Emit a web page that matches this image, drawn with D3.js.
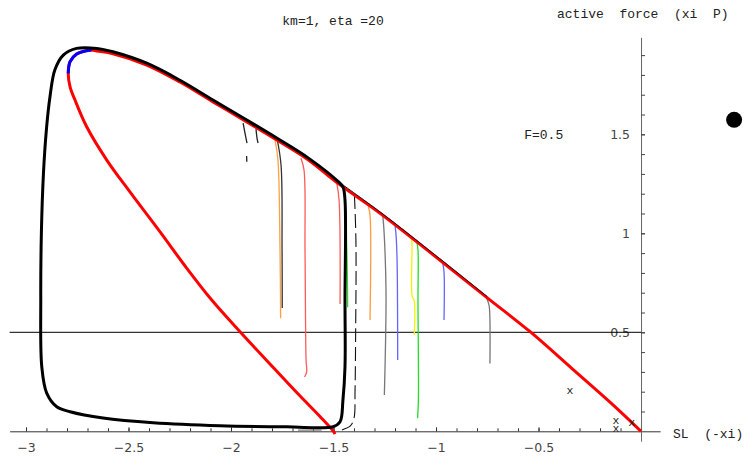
<!DOCTYPE html>
<html>
<head>
<meta charset="utf-8">
<script src="https://cdn.jsdelivr.net/npm/d3@7"></script>
<style>
  body { margin: 0; background: #fff; }
  svg { display: block; }
  .lab { font-family: "Liberation Mono", monospace; font-size: 13px; fill: #222; }
  .xm { font-size: 11.5px; }
  .tick text { font-family: "DejaVu Sans", sans-serif; font-size: 12.5px; fill: #444; }
</style>
</head>
<body>
<svg width="745" height="456"></svg>
<script>
// tick labels
const xTickVals = [-3, -2.5, -2, -1.5, -1, -0.5];
const yTickVals = [0.5, 1, 1.5];

// big black loop (SL, force)
const loopPts = [
  [-1.444, 0.663], [-1.444, 0.326], [-1.454, 0.158], [-1.468, 0.048], [-1.502, 0.023],
  [-1.728, 0.023], [-2.054, 0.028], [-2.380, 0.043], [-2.624, 0.067], [-2.785, 0.099],
  [-2.850, 0.124], [-2.899, 0.193], [-2.923, 0.326], [-2.928, 0.663], [-2.925, 1.000],
  [-2.915, 1.300], [-2.900, 1.530], [-2.883, 1.690], [-2.859, 1.826], [-2.818, 1.900],
  [-2.753, 1.934], [-2.655, 1.934], [-2.576, 1.917], [-2.411, 1.859], [-2.249, 1.773],
  [-2.088, 1.673], [-1.923, 1.572], [-1.777, 1.481], [-1.624, 1.381], [-1.477, 1.261],
  [-1.454, 1.234], [-1.444, 1.168]
];

// red curve
const redPts = [
  [-1.493, -0.014], [-1.502, 0.002], [-1.566, 0.075], [-1.663, 0.178], [-1.810, 0.340],
  [-1.956, 0.503], [-2.094, 0.663], [-2.224, 0.835], [-2.346, 1.007], [-2.493, 1.209],
  [-2.606, 1.370], [-2.704, 1.538], [-2.761, 1.673], [-2.785, 1.740], [-2.794, 1.808],
  [-2.785, 1.867], [-2.753, 1.906], [-2.712, 1.921], [-2.680, 1.926], [-2.655, 1.921],
  [-2.576, 1.907], [-2.411, 1.850], [-2.249, 1.764], [-2.088, 1.664], [-1.923, 1.563],
  [-1.777, 1.472], [-1.624, 1.372], [-1.478, 1.252], [-1.273, 1.101], [-1.0, 0.880],
  [-0.75, 0.674], [-0.541, 0.503], [-0.338, 0.318], [-0.15, 0.146], [0, 0]
];

// blue piece near the top
const bluePts = [[-2.794, 1.808], [-2.785, 1.867], [-2.753, 1.906], [-2.712, 1.921], [-2.680, 1.926]];

// thin drop traces and their colours
const dropTraces = [
  [[-1.941, 1.557], [-1.932, 1.507], [-1.922, 1.456]],
  [[-1.924, 1.390], [-1.923, 1.361]],
  [[-1.878, 1.526], [-1.873, 1.480], [-1.868, 1.456]],
  [[-1.785, 1.471], [-1.771, 1.370], [-1.761, 0.916], [-1.758, 0.571]],
  [[-1.776, 1.481], [-1.756, 1.345], [-1.751, 0.916], [-1.750, 0.623]],
  [[-1.659, 1.379], [-1.644, 1.320], [-1.639, 0.916], [-1.634, 0.360], [-1.631, 0.300], [-1.641, 0.274]],
  [[-1.484, 1.253], [-1.473, 1.168], [-1.468, 0.643]],
  [[-1.452, 1.235], [-1.444, 1.168], [-1.434, 0.865], [-1.431, 0.626]],
  [[-1.330, 1.134], [-1.322, 1.092], [-1.322, 0.562]],
  [[-1.260, 1.092], [-1.254, 1.017], [-1.244, 0.714], [-1.246, 0.461], [-1.252, 0.183]],
  [[-1.200, 1.042], [-1.195, 0.991], [-1.190, 0.865], [-1.187, 0.360]],
  [[-1.119, 0.975], [-1.117, 0.941], [-1.116, 0.680], [-1.107, 0.663], [-1.106, 0.486]],
  [[-1.094, 0.958], [-1.088, 0.916], [-1.088, 0.663], [-1.086, 0.158], [-1.090, 0.066]],
  [[-0.967, 0.848], [-0.961, 0.805], [-0.961, 0.562]],
  [[-0.753, 0.672], [-0.746, 0.653], [-0.740, 0.628], [-0.737, 0.343]],
  [[-1.673, 0.006], [-1.558, 0.006]]
];
const dropColors = ["#222", "#222", "#222", "#ffa040", "#333", "#ff5a5a", "#ff5a5a", "#22dd22",
  "#ff9a40", "#777", "#6464ff", "#f2f200", "#22dd22", "#6464ff", "#777", "#888"];

// dashed black trace and the thin line along the slope
const dashedPts = [[-1.398, 1.193], [-1.392, 1.027], [-1.390, 0.865], [-1.392, 0.512],
  [-1.395, 0.209], [-1.400, 0.067], [-1.418, 0.027], [-1.459, 0.007]];
const slopePts = [[-1.478, 1.262], [-1.273, 1.108], [-1.0, 0.887], [-0.75, 0.680]];

// "x" markers and the single dot
const xMarks = [[-0.347, 0.204], [-0.122, 0.055], [-0.122, 0.012], [-0.046, 0.042]];
const dotPt = [0.454, 1.573];

const svg = d3.select("svg");

const x = d3.scaleLinear().domain([-3.08, 0.093]).range([9.6, 660.1]);
const y = d3.scaleLinear().domain([-0.05, 1.99]).range([441.2, 37.3]);

const fmt = d3.format("");

// x axis: minor then major ticks
svg.append("g")
  .attr("transform", `translate(0,${y(0)})`)
  .call(d3.axisBottom(x).tickValues(d3.range(-30, 1).map(d => d / 10)).tickSize(-3).tickSizeOuter(0).tickFormat(""))
  .call(g => g.select(".domain").attr("stroke", "#333"))
  .call(g => g.selectAll(".tick line").attr("stroke", "#333"));
svg.append("g")
  .attr("transform", `translate(0,${y(0)})`)
  .call(d3.axisBottom(x).tickValues(xTickVals).tickSize(-4).tickSizeOuter(0).tickPadding(12).tickFormat(fmt))
  .call(g => g.select(".domain").remove())
  .call(g => g.selectAll(".tick line").attr("stroke", "#333"));

// y axis
svg.append("g")
  .attr("transform", `translate(${x(0)},0)`)
  .call(d3.axisLeft(y).tickValues(d3.range(1, 20).map(d => d / 10)).tickSize(-4).tickSizeOuter(0).tickFormat(""))
  .call(g => g.select(".domain").attr("stroke", "#666"))
  .call(g => g.selectAll(".tick line").attr("stroke", "#444"));
svg.append("g")
  .attr("transform", `translate(${x(0)},0)`)
  .call(d3.axisLeft(y).tickValues(yTickVals).tickSize(-4).tickSizeOuter(0).tickPadding(11).tickFormat(fmt))
  .call(g => g.select(".domain").remove())
  .call(g => g.selectAll(".tick line").attr("stroke", "#444"));

// horizontal line at F = 0.5
svg.append("line")
  .attr("x1", x(-3.08)).attr("x2", x(0))
  .attr("y1", y(0.5)).attr("y2", y(0.5))
  .attr("stroke", "#000").attr("stroke-width", 1);

const line = d3.line().x(d => x(d[0])).y(d => y(d[1])).curve(d3.curveCatmullRom.alpha(0.5));
const loop = d3.line().x(d => x(d[0])).y(d => y(d[1])).curve(d3.curveCatmullRomClosed.alpha(0.5));

// thin traces
svg.selectAll(".drop")
  .data(dropTraces)
  .join("path")
  .attr("class", "drop")
  .attr("d", line)
  .attr("fill", "none")
  .attr("stroke", (d, i) => dropColors[i])
  .attr("stroke-width", 1.3);

svg.append("path")
  .attr("d", line(dashedPts))
  .attr("fill", "none")
  .attr("stroke", "#111")
  .attr("stroke-width", 1.1)
  .attr("stroke-dasharray", "14 5");

// red curve
svg.append("path")
  .attr("d", line(redPts))
  .attr("fill", "none")
  .attr("stroke", "#ff0000")
  .attr("stroke-width", 3);

svg.append("path")
  .attr("d", line(slopePts))
  .attr("fill", "none")
  .attr("stroke", "#111")
  .attr("stroke-width", 1);

// blue piece
svg.append("path")
  .attr("d", line(bluePts))
  .attr("fill", "none")
  .attr("stroke", "#0000ff")
  .attr("stroke-width", 3);

// black loop
svg.append("path")
  .attr("d", loop(loopPts))
  .attr("fill", "none")
  .attr("stroke", "#000")
  .attr("stroke-width", 3);

// x markers
svg.selectAll(".xm")
  .data(xMarks)
  .join("text")
  .attr("class", "lab xm")
  .attr("x", d => x(d[0]))
  .attr("y", d => y(d[1]))
  .attr("text-anchor", "middle")
  .attr("dy", "0.3em")
  .text("x");

// black dot
svg.append("circle")
  .attr("cx", x(dotPt[0]))
  .attr("cy", y(dotPt[1]))
  .attr("r", 8)
  .attr("fill", "#000");

// labels
svg.append("text").attr("class", "lab").attr("x", 333).attr("y", 25).attr("text-anchor", "middle")
  .text("km=1, eta =20");
svg.append("text").attr("class", "lab").attr("x", 557).attr("y", 18)
  .style("white-space", "pre").text("active  force  (xi  P)");
svg.append("text").attr("class", "lab").attr("x", x(-0.57)).attr("y", y(1.5)).attr("dy", "0.35em")
  .text("F=0.5");
svg.append("text").attr("class", "lab").attr("x", 673).attr("y", 438)
  .style("white-space", "pre").text("SL  (-xi)");
</script>
</body>
</html>
